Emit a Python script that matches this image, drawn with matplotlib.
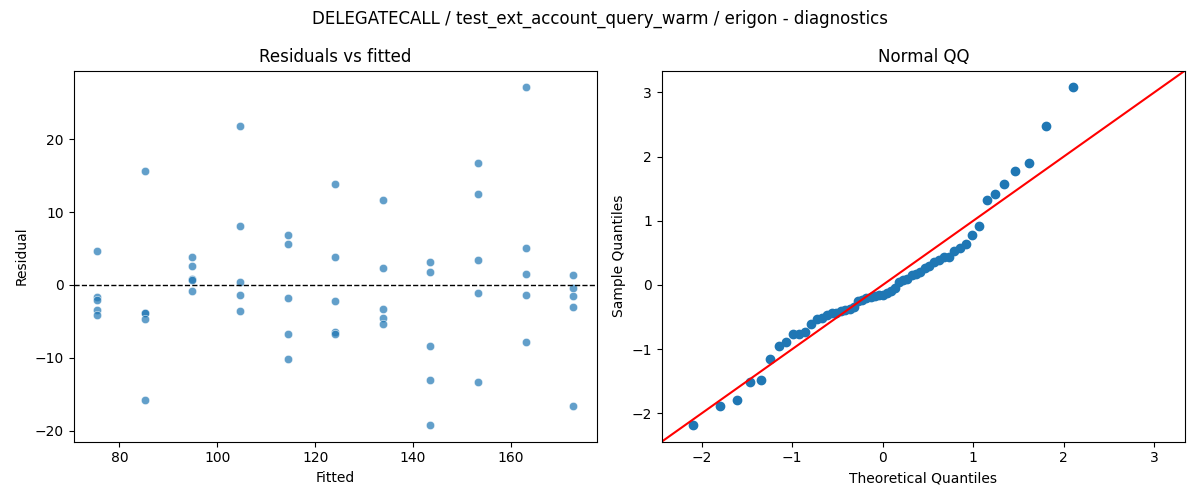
import numpy as np
import matplotlib
matplotlib.use("Agg")
import matplotlib.pyplot as plt
import seaborn as sns
from statistics import NormalDist

# ---- data ----
fitted_levels = [75.5, 85.3, 94.9, 104.7, 114.5, 124.1, 133.9, 143.5, 153.3, 163.1, 172.7]
residual_groups = [
    [4.7, -1.7, -2.1, -3.4, -4.1],
    [15.6, -3.8, -3.9, -4.7, -15.8],
    [3.8, 2.6, 0.8, 0.7, -0.8],
    [21.8, 8.1, 0.46, -1.4, -3.56],
    [6.85, 5.6, -1.78, -6.7, -10.1],
    [13.8, 3.84, -2.19, -6.4, -6.8],
    [11.6, 2.33, -3.29, -4.5, -5.3],
    [3.15, 1.78, -8.36, -13.0, -19.2],
    [16.7, 12.5, 3.42, -1.1, -13.3],
    [27.1, 5.07, 1.5, -1.37, -7.8],
    [1.42, -0.41, -1.5, -2.97, -16.6],
]
suptitle = "DELEGATECALL / test_ext_account_query_warm / erigon - diagnostics"

fitted = np.concatenate([[f] * len(g) for f, g in zip(fitted_levels, residual_groups)])
resid = np.concatenate([np.array(g, float) for g in residual_groups])

# QQ: standardized residuals vs normal quantiles (plotting positions i/(n+1))
std_resid = np.sort(resid / resid.std(ddof=0))
n = len(std_resid)
theo = np.array([NormalDist().inv_cdf(i / (n + 1)) for i in range(1, n + 1)])

fig, axes = plt.subplots(1, 2, figsize=(12, 5), dpi=100)

ax = axes[0]
sns.scatterplot(x=fitted, y=resid, ax=ax, alpha=0.7)
ax.axhline(0, color="black", linestyle="--", linewidth=1)
ax.set_title("Residuals vs fitted")
ax.set_xlabel("Fitted")
ax.set_ylabel("Residual")

ax = axes[1]
ax.plot(theo, std_resid, marker="o", linestyle="none", color="#1f77b4",
        markerfacecolor="#1f77b4", markeredgecolor="#1f77b4")
xl = ax.get_xlim()
yl = ax.get_ylim()
lo, hi = min(xl[0], yl[0]), max(xl[1], yl[1])
ax.plot([lo, hi], [lo, hi], color="red")
ax.set_xlim(lo, hi)
ax.set_ylim(lo, hi)
ax.set_title("Normal QQ")
ax.set_xlabel("Theoretical Quantiles")
ax.set_ylabel("Sample Quantiles")

fig.suptitle(suptitle)
fig.tight_layout()
fig.savefig("out.png")
